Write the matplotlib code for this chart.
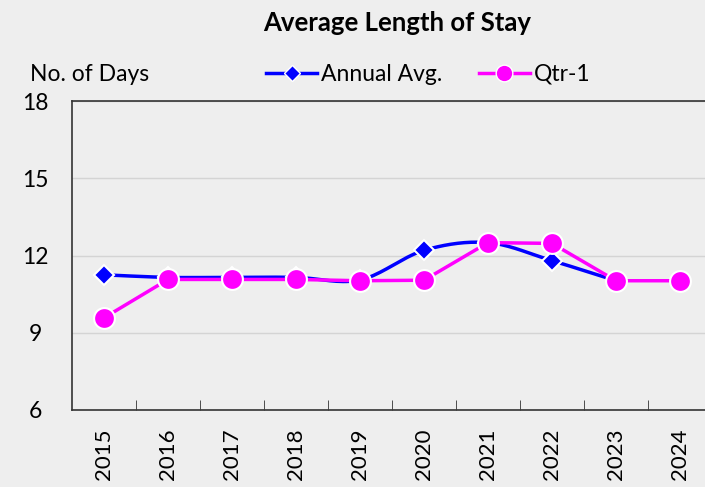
import numpy as np
import matplotlib.pyplot as plt
from matplotlib.lines import Line2D

plt.rcParams['font.family'] = ['Lato', 'DejaVu Sans']

years = ['2015', '2016', '2017', '2018', '2019', '2020', '2021', '2022', '2023', '2024']
annual_avg = [11.25, 11.15, 11.15, 11.15, 11.05, 12.2, 12.5, 11.8, 11.02]
qtr1 = [9.58, 11.07, 11.07, 11.07, 11.02, 11.04, 12.5, 12.47, 11.02, 11.02]


def smooth(xs, ys, n=20):
    # Catmull-Rom style curve, like a spreadsheet's smoothed line
    xs = np.asarray(xs, float)
    ys = np.asarray(ys, float)
    px = np.concatenate([[xs[0]], xs, [xs[-1]]])
    py = np.concatenate([[ys[0]], ys, [ys[-1]]])
    outx, outy = [], []
    for i in range(1, len(px) - 2):
        t = np.linspace(0, 1, n)
        p0, p1, p2, p3 = [np.array([px[j], py[j]]) for j in (i - 1, i, i + 1, i + 2)]
        c1 = p1 + (p2 - p0) / 6
        c2 = p2 - (p3 - p1) / 6
        for tt in t:
            b = ((1 - tt) ** 3) * p1 + 3 * ((1 - tt) ** 2) * tt * c1 + 3 * (1 - tt) * tt ** 2 * c2 + tt ** 3 * p2
            outx.append(b[0])
            outy.append(b[1])
    return outx, outy


fig = plt.figure(figsize=(7.05, 4.87), dpi=100, facecolor='#eeeeee')
ax = fig.add_axes([72 / 705, 1 - 410 / 487, 640 / 705, 309 / 487])
ax.set_facecolor('#eeeeee')

x_all = np.arange(len(years))
x_a = np.arange(len(annual_avg))

sx, sy = smooth(x_a, annual_avg)
ax.plot(sx, sy, color='#0000ff', lw=2.5, zorder=3)
ax.plot(x_a, annual_avg, ls='none', marker='D', ms=10, mfc='#0000ff', mec='white', mew=1.5, zorder=4)
ax.plot(x_all, qtr1, color='#ff00ff', lw=2.5, marker='o', ms=15, mfc='#ff00ff', mec='white', mew=1.5, zorder=5)

ax.set_xlim(-0.5, len(years) - 0.5)
ax.set_ylim(6, 18)
ax.set_yticks([6, 9, 12, 15, 18])
ax.yaxis.grid(True, color='#d4d4d4', lw=1)
ax.set_axisbelow(True)
ax.tick_params(axis='y', length=0, labelsize=16.5, pad=26.5)
for lab in ax.get_yticklabels():
    lab.set_horizontalalignment('center')
ax.set_xticks(x_all)
ax.set_xticklabels(years, rotation=90, fontsize=16)
ax.set_xticks(np.arange(0.5, len(years) - 0.5), minor=True)
ax.tick_params(axis='x', which='major', length=0, pad=13)
ax.tick_params(axis='x', which='minor', direction='in', length=7, color='#333333')
for s in ax.spines.values():
    s.set_color('#333333')
    s.set_linewidth(1.2)

fig.text(0.563, 0.953, 'Average Length of Stay', ha='center', va='center', fontsize=18.5, fontweight='bold')
fig.text(0.042, 0.848, 'No. of Days', ha='left', va='center', fontsize=16.5)

handles = [
    Line2D([], [], color='#0000ff', lw=2.5, marker='D', ms=8, mfc='#0000ff', mec='white'),
    Line2D([], [], color='#ff00ff', lw=2.5, marker='o', ms=12, mfc='#ff00ff', mec='white'),
]
fig.legend(handles, ['Annual Avg.', 'Qtr-1'], loc='center', bbox_to_anchor=(0.608, 0.848), ncol=2,
           frameon=False, fontsize=16.5, handlelength=2.2, handletextpad=0.2, columnspacing=1.6)

fig.savefig('out.png', dpi=100, facecolor=fig.get_facecolor())
